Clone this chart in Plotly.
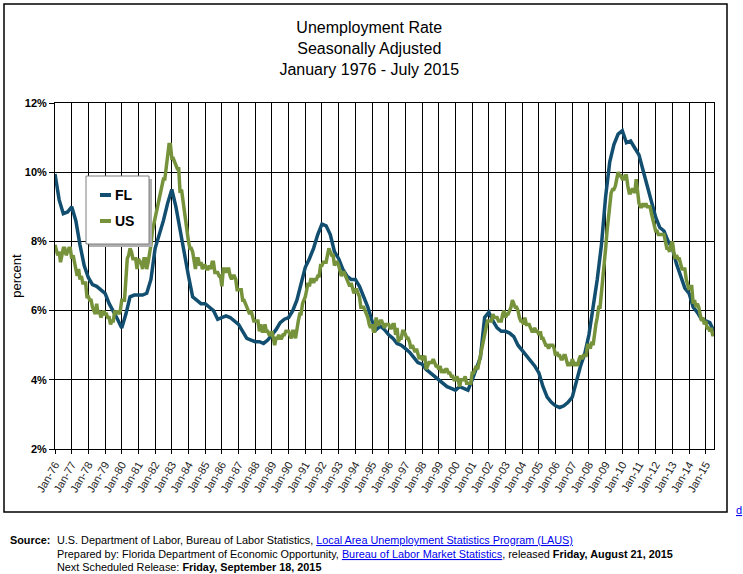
import pandas as pd
import plotly.graph_objects as go

# Florida: quarterly readings (Jan, Apr, Jul, Oct), Jan 1976 - Jul 2015
fl_dates = pd.date_range("1976-01-01", "2015-07-01", freq="3MS")
fl_rate = [
    9.95, 9.2, 8.8, 8.85,   # 1976
    9.0, 8.6, 7.9, 7.3,     # 1977
    6.95, 6.75, 6.7, 6.6,   # 1978
    6.5, 6.2, 6.0, 5.75,    # 1979
    5.5, 5.9, 6.4, 6.45,    # 1980
    6.45, 6.45, 6.5, 6.9,   # 1981
    7.8, 8.2, 8.6, 9.1,     # 1982
    9.5, 9.0, 8.3, 7.7,     # 1983
    7.0, 6.4, 6.3, 6.2,     # 1984
    6.2, 6.1, 6.0, 5.75,    # 1985
    5.8, 5.85, 5.8, 5.7,    # 1986
    5.6, 5.4, 5.2, 5.15,    # 1987
    5.1, 5.1, 5.05, 5.15,   # 1988
    5.3, 5.45, 5.65, 5.75,  # 1989
    5.8, 6.0, 6.3, 6.8,     # 1990
    7.25, 7.5, 7.8, 8.2,    # 1991
    8.5, 8.45, 8.2, 7.7,    # 1992
    7.5, 7.2, 7.0, 6.9,     # 1993
    6.9, 6.7, 6.4, 6.1,     # 1994
    5.7, 5.45, 5.55, 5.45,  # 1995
    5.3, 5.2, 5.05, 5.0,    # 1996
    4.9, 4.8, 4.65, 4.5,    # 1997
    4.45, 4.3, 4.2, 4.1,    # 1998
    4.0, 3.9, 3.8, 3.75,    # 1999
    3.7, 3.8, 3.75, 3.7,    # 2000
    4.0, 4.3, 4.65, 5.8,    # 2001
    5.95, 5.7, 5.5, 5.4,    # 2002
    5.4, 5.35, 5.25, 5.0,   # 2003
    4.85, 4.7, 4.55, 4.4,   # 2004
    4.2, 3.8, 3.5, 3.35,    # 2005
    3.25, 3.2, 3.25, 3.35,  # 2006
    3.5, 4.0, 4.4, 4.75,    # 2007
    5.3, 6.1, 6.9, 7.9,     # 2008
    9.3, 10.3, 10.8, 11.1,  # 2009
    11.2, 10.85, 10.9, 10.7,  # 2010
    10.5, 10.05, 9.6, 9.2,  # 2011
    8.7, 8.4, 8.3, 8.0,     # 2012
    7.8, 7.35, 7.0, 6.65,   # 2013
    6.5, 6.1, 5.95, 5.75,   # 2014
    5.7, 5.65, 5.4,         # 2015
]

# US: monthly readings, Jan 1976 - Jul 2015
us_dates = pd.date_range("1976-01-01", "2015-07-01", freq="MS")
us_rate = [
    7.9, 7.7, 7.6, 7.7, 7.4, 7.6, 7.8, 7.8, 7.6, 7.7, 7.8, 7.8,   # 1976
    7.5, 7.6, 7.4, 7.2, 7.0, 7.2, 6.9, 7.0, 6.8, 6.8, 6.8, 6.4,   # 1977
    6.4, 6.3, 6.3, 6.1, 6.0, 5.9, 6.2, 5.9, 6.0, 5.8, 5.9, 6.0,   # 1978
    5.9, 5.9, 5.8, 5.8, 5.6, 5.7, 5.7, 6.0, 5.9, 6.0, 5.9, 6.0,   # 1979
    6.3, 6.3, 6.3, 6.9, 7.5, 7.6, 7.8, 7.7, 7.5, 7.5, 7.5, 7.2,   # 1980
    7.5, 7.4, 7.4, 7.2, 7.5, 7.5, 7.2, 7.4, 7.6, 7.9, 8.3, 8.5,   # 1981
    8.6, 8.9, 9.0, 9.3, 9.4, 9.6, 9.8, 9.8, 10.1, 10.4, 10.8, 10.8,  # 1982
    10.4, 10.4, 10.3, 10.2, 10.1, 10.1, 9.4, 9.5, 9.2, 8.8, 8.5, 8.3,  # 1983
    8.0, 7.8, 7.8, 7.7, 7.4, 7.2, 7.5, 7.5, 7.3, 7.4, 7.2, 7.3,   # 1984
    7.3, 7.2, 7.2, 7.3, 7.2, 7.4, 7.4, 7.1, 7.1, 7.1, 7.0, 7.0,   # 1985
    6.7, 7.2, 7.2, 7.1, 7.2, 7.2, 7.0, 6.9, 7.0, 7.0, 6.9, 6.6,   # 1986
    6.6, 6.6, 6.6, 6.3, 6.3, 6.2, 6.1, 6.0, 5.9, 6.0, 5.8, 5.7,   # 1987
    5.7, 5.7, 5.7, 5.4, 5.6, 5.4, 5.4, 5.6, 5.4, 5.4, 5.3, 5.3,   # 1988
    5.4, 5.2, 5.0, 5.2, 5.2, 5.3, 5.2, 5.2, 5.3, 5.3, 5.4, 5.4,   # 1989
    5.4, 5.3, 5.2, 5.4, 5.4, 5.2, 5.5, 5.7, 5.9, 5.9, 6.2, 6.3,   # 1990
    6.4, 6.6, 6.8, 6.7, 6.9, 6.9, 6.8, 6.9, 6.9, 7.0, 7.0, 7.3,   # 1991
    7.3, 7.4, 7.4, 7.4, 7.6, 7.8, 7.7, 7.6, 7.6, 7.3, 7.4, 7.4,   # 1992
    7.3, 7.1, 7.0, 7.1, 7.1, 7.0, 6.9, 6.8, 6.7, 6.8, 6.6, 6.5,   # 1993
    6.6, 6.6, 6.5, 6.4, 6.1, 6.1, 6.1, 6.0, 5.9, 5.8, 5.6, 5.5,   # 1994
    5.6, 5.4, 5.4, 5.8, 5.6, 5.6, 5.7, 5.7, 5.6, 5.5, 5.6, 5.6,   # 1995
    5.6, 5.5, 5.5, 5.6, 5.6, 5.3, 5.5, 5.1, 5.2, 5.2, 5.4, 5.4,   # 1996
    5.3, 5.2, 5.2, 5.1, 4.9, 5.0, 4.9, 4.8, 4.9, 4.7, 4.6, 4.7,   # 1997
    4.6, 4.6, 4.7, 4.3, 4.4, 4.5, 4.5, 4.5, 4.6, 4.5, 4.4, 4.4,   # 1998
    4.3, 4.4, 4.2, 4.3, 4.2, 4.3, 4.3, 4.2, 4.2, 4.1, 4.1, 4.0,   # 1999
    4.0, 4.1, 4.0, 3.8, 4.0, 4.0, 4.0, 4.1, 3.9, 3.9, 3.9, 3.9,   # 2000
    4.2, 4.2, 4.3, 4.4, 4.3, 4.5, 4.6, 4.9, 5.0, 5.3, 5.5, 5.7,   # 2001
    5.7, 5.7, 5.7, 5.9, 5.8, 5.8, 5.8, 5.7, 5.7, 5.7, 5.9, 6.0,   # 2002
    5.8, 5.9, 5.9, 6.0, 6.1, 6.3, 6.2, 6.1, 6.1, 6.0, 5.8, 5.7,   # 2003
    5.7, 5.6, 5.8, 5.6, 5.6, 5.6, 5.5, 5.4, 5.4, 5.5, 5.4, 5.4,   # 2004
    5.3, 5.4, 5.2, 5.2, 5.1, 5.0, 5.0, 4.9, 5.0, 5.0, 5.0, 4.9,   # 2005
    4.7, 4.8, 4.7, 4.7, 4.6, 4.6, 4.7, 4.7, 4.5, 4.4, 4.5, 4.4,   # 2006
    4.6, 4.5, 4.4, 4.5, 4.4, 4.6, 4.7, 4.6, 4.7, 4.7, 4.7, 5.0,   # 2007
    5.0, 4.9, 5.1, 5.0, 5.4, 5.6, 5.8, 6.1, 6.1, 6.5, 6.8, 7.3,   # 2008
    7.8, 8.3, 8.7, 9.0, 9.4, 9.5, 9.5, 9.6, 9.8, 10.0, 9.9, 9.9,  # 2009
    9.8, 9.8, 9.9, 9.9, 9.6, 9.4, 9.4, 9.5, 9.5, 9.4, 9.8, 9.3,   # 2010
    9.1, 9.0, 9.0, 9.1, 9.0, 9.1, 9.0, 9.0, 9.0, 8.8, 8.6, 8.5,   # 2011
    8.3, 8.3, 8.2, 8.2, 8.2, 8.2, 8.2, 8.0, 7.8, 7.8, 7.7, 7.9,   # 2012
    8.0, 7.7, 7.5, 7.6, 7.5, 7.5, 7.3, 7.2, 7.2, 7.2, 6.9, 6.7,   # 2013
    6.6, 6.7, 6.7, 6.2, 6.3, 6.1, 6.2, 6.1, 5.9, 5.7, 5.8, 5.6,   # 2014
    5.7, 5.5, 5.5, 5.4, 5.5, 5.3, 5.3,                            # 2015
]

tick_years = list(range(1976, 2016))
tick_dates = [f"{y}-01-01" for y in tick_years]
tick_labels = [f"Jan-{str(y)[2:]}" for y in tick_years]

FL_COLOR = "#124e6f"
US_COLOR = "#76933c"
FONT = "Liberation Sans, Arial, sans-serif"

# plot area in page pixels: x 55..714, y 103..449
PX0, PX1, PY0, PY1 = 55, 714, 103, 449


def px(x):
    return (x - PX0) / (PX1 - PX0)


def py(y):
    return (PY1 - y) / (PY1 - PY0)


fig = go.Figure()
fig.add_trace(go.Scatter(x=fl_dates, y=fl_rate, name="FL", mode="lines",
                         line=dict(color=FL_COLOR, width=3.5)))
fig.add_trace(go.Scatter(x=us_dates, y=us_rate, name="US", mode="lines",
                         line=dict(color=US_COLOR, width=3.5)))

fig.update_layout(
    width=743, height=574,
    margin=dict(l=PX0, r=743 - PX1, t=PY0, b=574 - PY1),
    paper_bgcolor="white", plot_bgcolor="white",
    font=dict(family=FONT, color="black"),
    title=dict(text="Unemployment Rate<br>Seasonally Adjusted<br>January 1976 - July 2015",
               x=0.497, xanchor="center", y=0.942, yanchor="top",
               font=dict(size=16, color="black")),
    showlegend=False,
)

fig.update_xaxes(
    type="date", range=["1976-01-01", "2015-07-01"],
    tickvals=tick_dates, ticktext=tick_labels, tickangle=-60,
    tickfont=dict(size=11, color="#222222"),
    showgrid=True, gridcolor="black", gridwidth=1,
    showline=True, linecolor="black", linewidth=1, mirror=True,
    ticks="outside", ticklen=4, tickcolor="black",
)
fig.update_yaxes(
    range=[2, 12], dtick=2, ticksuffix="%",
    tickfont=dict(size=11, color="black", weight="bold"),
    showgrid=True, gridcolor="black", gridwidth=1,
    showline=True, linecolor="black", linewidth=1, mirror=True,
    ticks="outside", ticklen=5, tickcolor="black",
    title=dict(text="percent", font=dict(size=13, color="black"), standoff=0),
    zeroline=False,
)

# outer chart frame
fig.add_shape(type="rect", xref="paper", yref="paper",
              x0=px(4), x1=px(727), y0=py(512), y1=py(4),
              line=dict(color="black", width=1.5), fillcolor="rgba(0,0,0,0)")

# legend box with drop shadow
fig.add_shape(type="rect", xref="paper", yref="paper",
              x0=px(89), x1=px(152), y0=py(247), y1=py(179),
              line=dict(width=0), fillcolor="#b0b0b0", layer="above")
fig.add_shape(type="rect", xref="paper", yref="paper",
              x0=px(86), x1=px(149), y0=py(244), y1=py(176),
              line=dict(color="#7f7f7f", width=1), fillcolor="white", layer="above")
for name, color, ly in [("FL", FL_COLOR, 195), ("US", US_COLOR, 221)]:
    fig.add_shape(type="line", xref="paper", yref="paper",
                  x0=px(100), x1=px(111), y0=py(ly), y1=py(ly),
                  line=dict(color=color, width=4), layer="above")
    fig.add_annotation(text=f"<b>{name}</b>", xref="paper", yref="paper",
                       x=px(113), y=py(ly), xanchor="left", yanchor="middle",
                       showarrow=False, font=dict(size=14, color="black"))

link = 'style="color:#0000ee;text-decoration:underline"'
footer = [
    (0.0, "U.S. Department of Labor, Bureau of Labor Statistics, "
          f"<span {link}>Local Area Unemployment Statistics Program (LAUS)</span>"),
    (13.5, "Prepared by: Florida Department of Economic Opportunity, "
           f"<span {link}>Bureau of Labor Market Statistics</span>, released "
           "<b>Friday, August 21, 2015</b>"),
    (27.0, "Next Scheduled Release: <b>Friday, September 18, 2015</b>"),
]
for dy, txt in footer:
    fig.add_annotation(text=txt, xref="paper", yref="paper",
                       x=px(55), y=py(540 + dy),
                       xanchor="left", yanchor="middle", showarrow=False,
                       font=dict(size=10.85, color="black"))
fig.add_annotation(text="<b>Source:</b>", xref="paper", yref="paper",
                   x=px(8), y=py(540), xanchor="left", yanchor="middle",
                   showarrow=False, font=dict(size=10.85, color="black"))
fig.add_annotation(text=f"<span {link}>d</span>", xref="paper", yref="paper",
                   x=px(734), y=py(510), xanchor="left", yanchor="middle",
                   showarrow=False, font=dict(size=11))

fig.write_html("out.html",
               config={"displayModeBar": False},
               post_script="document.body.style.margin='0';"
                           "document.body.style.overflow='hidden';")
